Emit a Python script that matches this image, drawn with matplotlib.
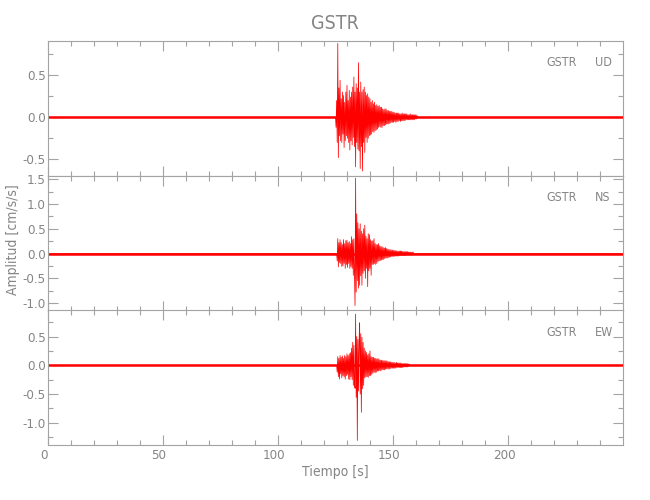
import numpy as np
import matplotlib.pyplot as plt
import matplotlib.transforms as mtransforms
from matplotlib.ticker import MultipleLocator

plt.rcParams['font.family'] = ['DejaVu Sans']
plt.rcParams['font.stretch'] = 'condensed'

STATION = "GSTR"
COMPONENTS = ["UD", "NS", "EW"]
RECORD_END = 249.99          # seconds
SAMPLE_STEP = 0.25           # spacing of the read-off swings [s]

# quiet level before / after the event (cm/s/s)
BASE_LEVEL = 0.0

# swings, one value every SAMPLE_STEP from *_START
# (each row = 2 s)
UD_START = 125.0
UD_SWINGS = [
    0.00, -0.12, 0.20, -0.30, 0.88, -0.48, 0.35, -0.22,
    0.44, -0.28, 0.22, -0.30, 0.30, -0.20, 0.26, -0.36,
    0.18, -0.28, 0.30, -0.22, 0.38, -0.25, 0.20, -0.30,
    0.32, -0.39, 0.24, -0.28, 0.30, -0.33, 0.36, -0.24,
    0.48, -0.35, 0.30, -0.59, 0.40, -0.30, 0.35, -0.38,
    0.65, -0.40, 0.30, -0.61, 0.42, -0.35, 0.30, -0.64,
    0.33, -0.30, 0.36, -0.42, 0.30, -0.24, 0.26, -0.30,
    0.28, -0.25, 0.24, -0.22, 0.22, -0.21, 0.18, -0.20,
    0.20, -0.17, 0.16, -0.18, 0.18, -0.16, 0.14, -0.15,
    0.15, -0.14, 0.13, -0.12, 0.14, -0.11, 0.12, -0.12,
    0.12, -0.12, 0.10, -0.10, 0.09, -0.10, 0.10, -0.09,
    0.10, -0.08, 0.08, -0.08, 0.08, -0.08, 0.07, -0.07,
    0.07, -0.06, 0.07, -0.06, 0.06, -0.06, 0.06, -0.05,
    0.05, -0.06, 0.05, -0.05, 0.05, -0.05, 0.05, -0.04,
    0.04, -0.05, 0.04, -0.04, 0.05, -0.04, 0.04, -0.04,
    0.04, -0.04, 0.04, -0.03, 0.04, -0.03, 0.03, -0.03,
    0.03, -0.03, 0.04, -0.03, 0.03, -0.03, 0.03, -0.03,
    0.03, -0.03, 0.03, -0.02, 0.03, -0.02, 0.02, 0.00,
]

NS_START = 125.5
NS_SWINGS = [
    0.00, -0.15, 0.30, -0.27, 0.22, -0.18, 0.28, -0.20,
    0.22, -0.26, 0.18, -0.25, 0.28, -0.20, 0.20, -0.30,
    0.26, -0.22, 0.27, -0.28, 0.22, -0.20, 0.24, -0.30,
    0.20, -0.26, 0.34, -0.30, 0.28, -0.44, 0.30, -0.35,
    -1.05, 1.52, -0.78, 0.80, -0.55, 0.62, -0.70, 0.50,
    -0.64, 0.60, -0.45, 0.45, -0.64, 0.40, -0.40, 0.50,
    -0.35, 0.57, -0.50, 0.35, -0.30, 0.30, -0.67, 0.40,
    -0.35, 0.38, -0.30, 0.28, -0.44, 0.25, -0.22, 0.26,
    -0.22, 0.30, -0.20, 0.20, -0.22, 0.18, -0.20, 0.18,
    -0.16, 0.20, -0.15, 0.16, -0.14, 0.14, -0.13, 0.14,
    -0.12, 0.12, -0.12, 0.11, -0.10, 0.12, -0.09, 0.10,
    -0.09, 0.09, -0.08, 0.08, -0.07, 0.08, -0.07, 0.07,
    -0.06, 0.07, -0.06, 0.06, -0.06, 0.06, -0.05, 0.06,
    -0.05, 0.05, -0.05, 0.05, -0.05, 0.05, -0.04, 0.05,
    -0.04, 0.05, -0.04, 0.04, -0.04, 0.04, -0.04, 0.04,
    -0.04, 0.04, -0.03, 0.04, -0.03, 0.03, -0.03, 0.03,
    -0.03, 0.03, -0.03, 0.03, -0.03, 0.03, -0.02, 0.00,
]

EW_START = 125.5
EW_SWINGS = [
    0.00, -0.12, 0.15, -0.20, 0.12, -0.24, 0.17, -0.15,
    0.14, -0.22, 0.16, -0.18, 0.12, -0.20, 0.17, -0.24,
    0.15, -0.18, 0.20, -0.16, 0.17, -0.24, 0.20, -0.25,
    0.22, -0.20, 0.30, -0.25, 0.40, -0.35, 0.35, -0.30,
    -0.40, 0.89, -0.56, 0.50, -1.31, 0.45, -0.45, 0.40,
    0.74, -0.50, 0.55, -0.82, 0.49, -0.41, 0.40, -0.35,
    0.30, -0.22, 0.25, -0.20, 0.22, -0.20, 0.18, -0.21,
    0.20, -0.18, 0.25, -0.18, 0.15, -0.16, 0.14, -0.14,
    0.14, -0.12, 0.12, -0.13, 0.12, -0.12, 0.11, -0.10,
    0.12, -0.10, 0.10, -0.09, 0.09, -0.10, 0.09, -0.08,
    0.08, -0.08, 0.08, -0.08, 0.08, -0.07, 0.08, -0.06,
    0.07, -0.06, 0.06, -0.07, 0.06, -0.06, 0.06, -0.05,
    0.05, -0.05, 0.05, -0.05, 0.05, -0.05, 0.04, -0.05,
    0.05, -0.04, 0.04, -0.04, 0.04, -0.04, 0.04, -0.04,
    0.04, -0.04, 0.03, -0.04, 0.03, -0.03, 0.03, -0.03,
    0.03, -0.03, 0.03, -0.03, 0.03, -0.02, 0.02, 0.00,
]

# axis ranges as shown (IDL scaled each trace to its own extremes)
Y_RANGES = [(-0.693, 0.914), (-1.15, 1.575), (-1.389, 0.963)]

TEXT_GRAY = '#858585'
AXIS_GRAY = '#a3a3a3'


def build_trace(start, swings):
    t_event = start + SAMPLE_STEP * np.arange(len(swings))
    t = np.concatenate([[0.0], t_event, [RECORD_END]])
    v = np.concatenate([[BASE_LEVEL], swings, [BASE_LEVEL]])
    return t, v


def style_axis(fig, ax, yrange, show_x_labels):
    ax.set_xlim(0, RECORD_END)
    ax.set_ylim(*yrange)
    ax.xaxis.set_major_locator(MultipleLocator(50))
    ax.xaxis.set_minor_locator(MultipleLocator(10))
    ax.yaxis.set_major_locator(MultipleLocator(0.5))
    ax.yaxis.set_minor_locator(MultipleLocator(0.25))
    ax.yaxis.set_major_formatter(plt.FormatStrFormatter('%.1f'))
    ax.tick_params(which='both', direction='in', top=True, right=True,
                   color=AXIS_GRAY, labelcolor=TEXT_GRAY, labelsize=9.5, width=0.8)
    ax.tick_params(which='major', length=7)
    ax.tick_params(which='minor', length=3.5)
    ax.tick_params(axis='y', pad=1.5)
    ax.tick_params(axis='x', pad=3, labelbottom=show_x_labels)
    # IDL puts the x labels a little left of their ticks
    shift = mtransforms.ScaledTranslation(-4 / 100, 0, fig.dpi_scale_trans)
    for lab in ax.get_xticklabels():
        lab.set_transform(lab.get_transform() + shift)
    for sp in ax.spines.values():
        sp.set_color(AXIS_GRAY)
        sp.set_linewidth(0.8)


def main():
    fig = plt.figure(figsize=(6.5, 5), dpi=100)
    traces = [(UD_START, UD_SWINGS), (NS_START, NS_SWINGS), (EW_START, EW_SWINGS)]
    bottoms = [0.649, 0.379, 0.11]

    for i, comp in enumerate(COMPONENTS):
        ax = fig.add_axes([0.0738, bottoms[i], 0.8846, 0.27])
        t, v = build_trace(*traces[i])
        # quiet noise band
        ax.plot([0, RECORD_END], [BASE_LEVEL, BASE_LEVEL], color='red', lw=1.8,
                solid_capstyle='butt')
        ax.plot(t, v, color='red', lw=0.55)
        style_axis(fig, ax, Y_RANGES[i], i == 2)
        ax.text(0.9195, 0.835, STATION, transform=ax.transAxes, ha='right',
                va='center', fontsize=9, color=TEXT_GRAY)
        ax.text(0.951, 0.835, comp, transform=ax.transAxes, ha='left',
                va='center', fontsize=9, color=TEXT_GRAY)

    fig.text(0.516, 0.953, STATION, ha='center', va='center', fontsize=14,
             color=TEXT_GRAY)
    fig.text(0.516, 0.056, 'Tiempo [s]', ha='center', va='center', fontsize=10,
             color=TEXT_GRAY)
    fig.text(0.02, 0.52, 'Amplitud [cm/s/s]', ha='center', va='center',
             rotation=90, fontsize=10, color=TEXT_GRAY)

    fig.savefig('out.png', dpi=100)


if __name__ == "__main__":
    main()
